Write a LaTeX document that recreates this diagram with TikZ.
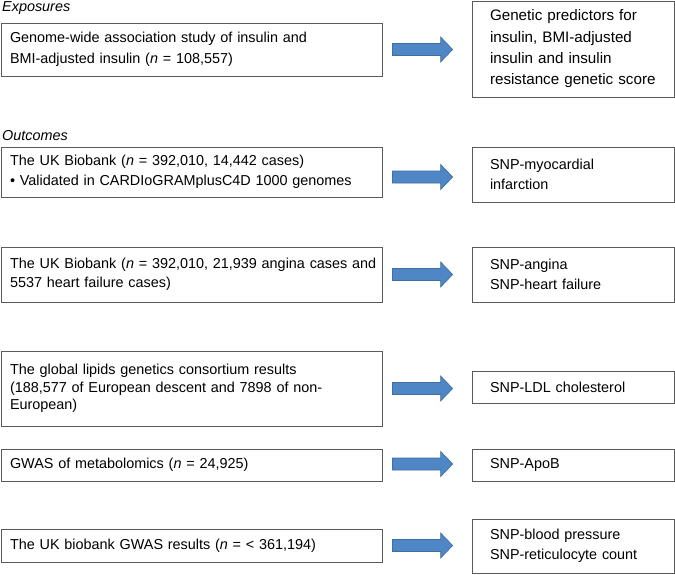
\documentclass[tikz,border=0pt]{standalone}
\usepackage{fontspec}
\setmainfont{Liberation Sans}
\usetikzlibrary{calc}
\definecolor{arrowblue}{HTML}{4F86C6}
\definecolor{arrowedge}{HTML}{3E6FA3}
\definecolor{boxline}{HTML}{5A5A5A}

\begin{document}
\begin{tikzpicture}[
    x=1pt, y=-1pt,
    inbox/.style={rectangle, draw=boxline, line width=0.8pt, text width=363pt, inner xsep=9pt, inner ysep=0pt, align=left, font=\fontsize{14.4}{20.5}\selectfont},
    outbox/.style={rectangle, draw=boxline, line width=0.8pt, text width=166pt, inner xsep=18pt, inner ysep=0pt, align=left, font=\fontsize{14.4}{20.5}\selectfont},
    heading/.style={anchor=west, inner sep=0pt, font=\fontsize{14.4}{17}\selectfont\itshape},
    bigarrow/.style={fill=arrowblue, draw=arrowedge, line width=0.7pt}
  ]
    \useasboundingbox (0,0) rectangle (675,574);

    % Exposures
    \node[heading] (exp) at (2,8) {Exposures};
    \node[inbox, minimum height=53] (gwas) at (191.5,49.5) {Genome-wide association study of insulin and\\BMI-adjusted insulin (\textit{n} = 108,557)};
    \node[outbox, minimum height=96, font=\fontsize{15.2}{21.3}\selectfont] (gp) at (573,49) {Genetic predictors for\\insulin, BMI-adjusted\\insulin and insulin\\resistance genetic score};

    % Outcomes
    \node[heading] (out) at (2,136) {Outcomes};
    \node[inbox, minimum height=50] (ukmi) at (191.5,172) {The UK Biobank (\textit{n} = 392,010, 14,442 cases)\\• Validated in CARDIoGRAMplusC4D 1000 genomes};
    \node[outbox, minimum height=55] (mi) at (573,174.5) {SNP-myocardial\\infarction};

    \node[inbox, minimum height=55, font=\fontsize{14.4}{19}\selectfont] (ukang) at (191.5,274.5) {\mbox{The UK Biobank (\textit{n} = 392,010, 21,939 angina cases and}\\5537 heart failure cases)};
    \node[outbox, minimum height=55] (ang) at (573,274.5) {SNP-angina\\SNP-heart failure};

    \node[inbox, minimum height=75, font=\fontsize{14.4}{17.5}\selectfont] (lipids) at (191.5,388.5) {The global lipids genetics consortium results\\(188,577 of European descent and 7898 of non-\\European)};
    \node[outbox, minimum height=32] (ldl) at (573,387) {SNP-LDL cholesterol};

    \node[inbox, minimum height=32] (metab) at (191.5,465) {GWAS of metabolomics (\textit{n} = 24,925)};
    \node[outbox, minimum height=32] (apob) at (573,465) {SNP-ApoB};

    \node[inbox, minimum height=33] (ukbp) at (191.5,545.5) {The UK biobank GWAS results (\textit{n} = < 361,194)};
    \node[outbox, minimum height=54] (bp) at (573,546) {SNP-blood pressure\\SNP-reticulocyte count};

    % Block arrows between the boxes
    \foreach \src/\dst/\dy in {gwas/gp/0, ukmi/mi/5, ukang/ang/0, lipids/ldl/0, metab/apob/-1, ukbp/bp/0} {
      \path (\src.east) ++(10,\dy) coordinate (s);
      \path (\dst.west) ++(-19,0) coordinate (t);
      \coordinate (e) at (t |- s);
      \draw[bigarrow] ($(s)+(0,-6)$) -- ($(e)+(-12,-6)$) -- ($(e)+(-12,-12.5)$) -- (e)
        -- ($(e)+(-12,12.5)$) -- ($(e)+(-12,6)$) -- ($(s)+(0,6)$) -- cycle;
    }
  \end{tikzpicture}
\end{document}
